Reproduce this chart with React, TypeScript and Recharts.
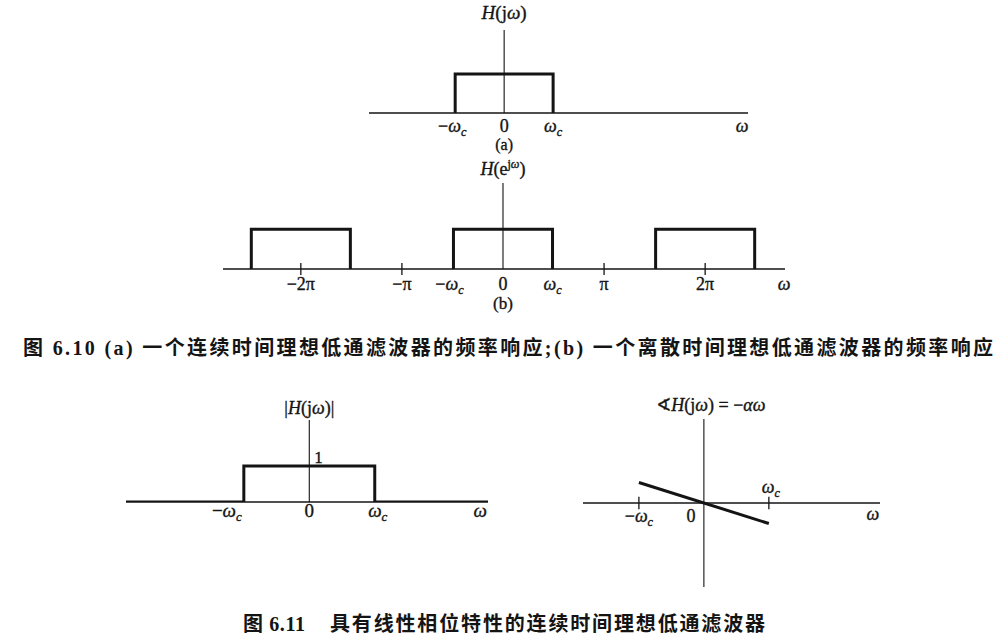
import { LineChart, Line, XAxis, YAxis, ReferenceLine, ReferenceDot } from 'recharts'

const SERIF = "'Liberation Serif', 'DejaVu Serif', 'DejaVu Sans', serif"
const CAPTION_FONT = "'Liberation Serif', 'Noto Sans CJK SC', serif"
const INK = '#141414'
const ITALIC = new Set(['H', 'ω', 'α'])

// 图6.10(a) 连续时间：ω 以 ωc 为单位
const ctDomain = [-2.76, 4.98]
const ctResponse = [
  { w: -1, h: 0 },
  { w: -1, h: 1 },
  { w: 1, h: 1 },
  { w: 1, h: 0 },
]
const ctTicks = [-1, 0, 1, 4.86]
const ctTickLabels = ['−ω_c', '0', 'ω_c', 'ω']

// 图6.10(b) 离散时间：ω 以 π 为单位，周期为 2π
const dtDomain = [-2.77, 2.79]
const dtResponse = [
  { w: -2.49, h: 0 },
  { w: -2.49, h: 1 },
  { w: -1.51, h: 1 },
  { w: -1.51, h: 0 },
  { w: -1, h: null },
  { w: -0.49, h: 0 },
  { w: -0.49, h: 1 },
  { w: 0.49, h: 1 },
  { w: 0.49, h: 0 },
  { w: 1, h: null },
  { w: 1.51, h: 0 },
  { w: 1.51, h: 1 },
  { w: 2.49, h: 1 },
  { w: 2.49, h: 0 },
]
const dtTicks = [-2, -1, -0.49, 0, 0.49, 1, 2, 2.78]
const dtTickLabels = ['−2π', '−π', '−ω_c', '0', 'ω_c', 'π', '2π', 'ω']
const dtPeriodMarks = [-2, -1, 1, 2]

// 图6.11 幅频 |H(jω)|
const magDomain = [-2.8, 2.73]
const magResponse = [
  { w: -2.8, h: 0 },
  { w: -1, h: 0 },
  { w: -1, h: 1 },
  { w: 1, h: 1 },
  { w: 1, h: 0 },
  { w: 2.73, h: 0 },
]
const magTicks = [-1, 0, 1, 2.61]
const magTickLabels = ['−ω_c', '0', 'ω_c', 'ω']

// 图6.11 相频 ∢H(jω) = −αω
const phaseDomain = [-1.86, 2.71]
const phaseRange = [-4.1, 4.1]
const phaseResponse = [
  { w: -1, p: 1 },
  { w: 1, p: -1 },
]
const phaseMarks = [-1, 1]
const phaseLabelAt = [-1, 0, 1, 2.6]
const phaseLabels = ['−ω_c', '0', 'ω_c', 'ω']

const caption610 = '图 6.10 (a) 一个连续时间理想低通滤波器的频率响应;(b) 一个离散时间理想低通滤波器的频率响应'
const caption611Num = '图 6.11'
const caption611Text = '具有线性相位特性的连续时间理想低通滤波器'

// "_c" 为下标，"^{jω}" 为上标
function MathText({ x, y, src, size, anchor = 'middle' }: { x: number; y: number; src: string; size: number; anchor?: string }) {
  const spans: any[] = []
  let shift = 0
  let i = 0
  while (i < src.length) {
    const ch = src[i]
    if (ch === '_' || ch === '^') {
      let group: string
      if (src[i + 1] === '{') {
        const end = src.indexOf('}', i)
        group = src.slice(i + 2, end)
        i = end + 1
      } else {
        group = src[i + 1]
        i += 2
      }
      const target = ch === '_' ? size * 0.22 : -size * 0.38
      ;[...group].forEach((g, k) => {
        spans.push(
          <tspan
            key={spans.length}
            dy={k === 0 ? target - shift : undefined}
            fontSize={size * 0.68}
            fontStyle={ch === '_' || ITALIC.has(g) ? 'italic' : 'normal'}
          >
            {g}
          </tspan>
        )
      })
      shift = target
      continue
    }
    spans.push(
      <tspan key={spans.length} dy={shift ? -shift : undefined} fontStyle={ITALIC.has(ch) ? 'italic' : 'normal'}>
        {ch}
      </tspan>
    )
    shift = 0
    i++
  }
  return (
    <text x={x} y={y} textAnchor={anchor} fontFamily={SERIF} fontSize={size} fill={INK} stroke={INK} strokeWidth={0.35}>
      {spans}
    </text>
  )
}

function tickRenderer(ticks: number[], labels: string[], drop: number, size: number, nudge: Record<string, number> = {}) {
  return (props: any) => {
    const src = labels[ticks.indexOf(props.payload.value)] ?? ''
    return <MathText x={props.x + (nudge[src] ?? 0)} y={props.y + drop} src={src} size={size} />
  }
}

const above = (src: string, size: number, lift: number, dx = 0) => (props: any) => (
  <MathText x={props.viewBox.x + dx} y={props.viewBox.y - lift} src={src} size={size} />
)
const below = (src: string, size: number, drop: number) => (props: any) => (
  <MathText x={props.viewBox.x} y={props.viewBox.y + props.viewBox.height + drop} src={src} size={size} />
)

const axisLine = { stroke: INK, strokeWidth: 1.3 }
const phaseNudge: Record<string, [number, number]> = {
  '−ω_c': [0, 19],
  '0': [-13, 19],
  'ω_c': [2, -10],
  'ω': [0, 17],
}

export default function App() {
  return (
    <div style={{ position: 'absolute', left: 0, top: 0, width: 1000, height: 638, background: '#fff', overflow: 'hidden' }}>
      <div style={{ position: 'absolute', left: 340, top: 0 }}>
        <LineChart width={440} height={160} margin={{ top: 30, right: 32, bottom: 17, left: 29 }}>
          <XAxis
            type="number"
            dataKey="w"
            domain={ctDomain}
            allowDataOverflow
            ticks={ctTicks}
            interval={0}
            height={30}
            tickSize={0}
            tickMargin={0}
            tickLine={false}
            axisLine={axisLine}
            tick={tickRenderer(ctTicks, ctTickLabels, 19, 18, { '−ω_c': -3 })}
          />
          <YAxis type="number" domain={[0, 2.13]} allowDataOverflow hide />
          <ReferenceLine x={0} stroke={INK} strokeWidth={1.1} label={above('H(jω)', 19, 11)} />
          <ReferenceLine x={0} stroke="none" label={below('(a)', 16, 37)} />
          <Line data={ctResponse} dataKey="h" type="linear" stroke={INK} strokeWidth={3} dot={false} activeDot={false} isAnimationActive={false} />
        </LineChart>
      </div>

      <div style={{ position: 'absolute', left: 190, top: 150 }}>
        <LineChart width={620} height={170} margin={{ top: 33, right: 25, bottom: 21, left: 33 }}>
          <XAxis
            type="number"
            dataKey="w"
            domain={dtDomain}
            allowDataOverflow
            ticks={dtTicks}
            interval={0}
            height={30}
            tickSize={0}
            tickMargin={0}
            tickLine={false}
            axisLine={axisLine}
            tick={tickRenderer(dtTicks, dtTickLabels, 21, 18, { '−ω_c': -4 })}
          />
          <YAxis type="number" domain={[0, 2.16]} allowDataOverflow hide />
          <ReferenceLine x={0} stroke={INK} strokeWidth={1.1} label={above('H(e^{jω})', 18, 8)} />
          <ReferenceLine x={0} stroke="none" label={below('(b)', 17, 40)} />
          {dtPeriodMarks.map((m) => (
            <ReferenceLine key={m} segment={[{ x: m, y: -0.15 }, { x: m, y: 0.15 }]} stroke={INK} strokeWidth={1.3} ifOverflow="visible" />
          ))}
          <Line data={dtResponse} dataKey="h" type="linear" stroke={INK} strokeWidth={3} dot={false} activeDot={false} connectNulls={false} isAnimationActive={false} />
        </LineChart>
      </div>

      <div style={{ position: 'absolute', left: 100, top: 390 }}>
        <LineChart width={420} height={140} margin={{ top: 30, right: 32, bottom: 8, left: 26 }}>
          <XAxis
            type="number"
            dataKey="w"
            domain={magDomain}
            allowDataOverflow
            ticks={magTicks}
            interval={0}
            height={20}
            tickSize={0}
            tickMargin={0}
            tickLine={false}
            axisLine={axisLine}
            tick={tickRenderer(magTicks, magTickLabels, 15, 19, { '−ω_c': -17, 'ω_c': 3 })}
          />
          <YAxis type="number" domain={[0, 2.28]} allowDataOverflow hide />
          <ReferenceLine x={0} stroke={INK} strokeWidth={1.1} label={above('|H(jω)|', 18, 6)} />
          <ReferenceDot
            x={0}
            y={1}
            r={0}
            fill="none"
            stroke="none"
            label={(props: any) => <MathText x={props.viewBox.x + 5} y={props.viewBox.y - 3} src="1" size={17} anchor="start" />}
          />
          <Line data={magResponse} dataKey="h" type="linear" stroke={INK} strokeWidth={3} dot={false} activeDot={false} isAnimationActive={false} />
        </LineChart>
      </div>

      <div style={{ position: 'absolute', left: 570, top: 390 }}>
        <LineChart width={330} height={210} margin={{ top: 29, right: 20, bottom: 13, left: 13 }}>
          <XAxis type="number" dataKey="w" domain={phaseDomain} allowDataOverflow hide />
          <YAxis type="number" dataKey="p" domain={phaseRange} allowDataOverflow hide />
          <ReferenceLine y={0} stroke={INK} strokeWidth={1.3} />
          <ReferenceLine x={0} stroke={INK} strokeWidth={1.1} label={above('∢H(jω) = −αω', 18, 8, 7)} />
          {phaseMarks.map((m) => (
            <ReferenceLine key={m} segment={[{ x: m, y: -0.3 }, { x: m, y: 0.3 }]} stroke={INK} strokeWidth={1.3} />
          ))}
          {phaseLabelAt.map((w, i) => (
            <ReferenceDot
              key={w}
              x={w}
              y={0}
              r={0}
              fill="none"
              stroke="none"
              label={(props: any) => {
                const [dx, dy] = phaseNudge[phaseLabels[i]]
                return <MathText x={props.viewBox.x + dx} y={props.viewBox.y + dy} src={phaseLabels[i]} size={18} />
              }}
            />
          ))}
          <Line data={phaseResponse} dataKey="p" type="linear" stroke={INK} strokeWidth={3} dot={false} activeDot={false} isAnimationActive={false} />
        </LineChart>
      </div>

      <svg width={1000} height={638} style={{ position: 'absolute', left: 0, top: 0, pointerEvents: 'none' }}>
        <text x={23} y={355} textLength={970} lengthAdjust="spacing" fontFamily={CAPTION_FONT} fontWeight="bold" fontSize={20} fill={INK}>
          {caption610}
        </text>
        <text x={243} y={631} textLength={62} lengthAdjust="spacing" fontFamily={CAPTION_FONT} fontWeight="bold" fontSize={20} fill={INK}>
          {caption611Num}
        </text>
        <text x={330} y={631} textLength={435} lengthAdjust="spacing" fontFamily={CAPTION_FONT} fontWeight="bold" fontSize={20} fill={INK}>
          {caption611Text}
        </text>
      </svg>
    </div>
  )
}
